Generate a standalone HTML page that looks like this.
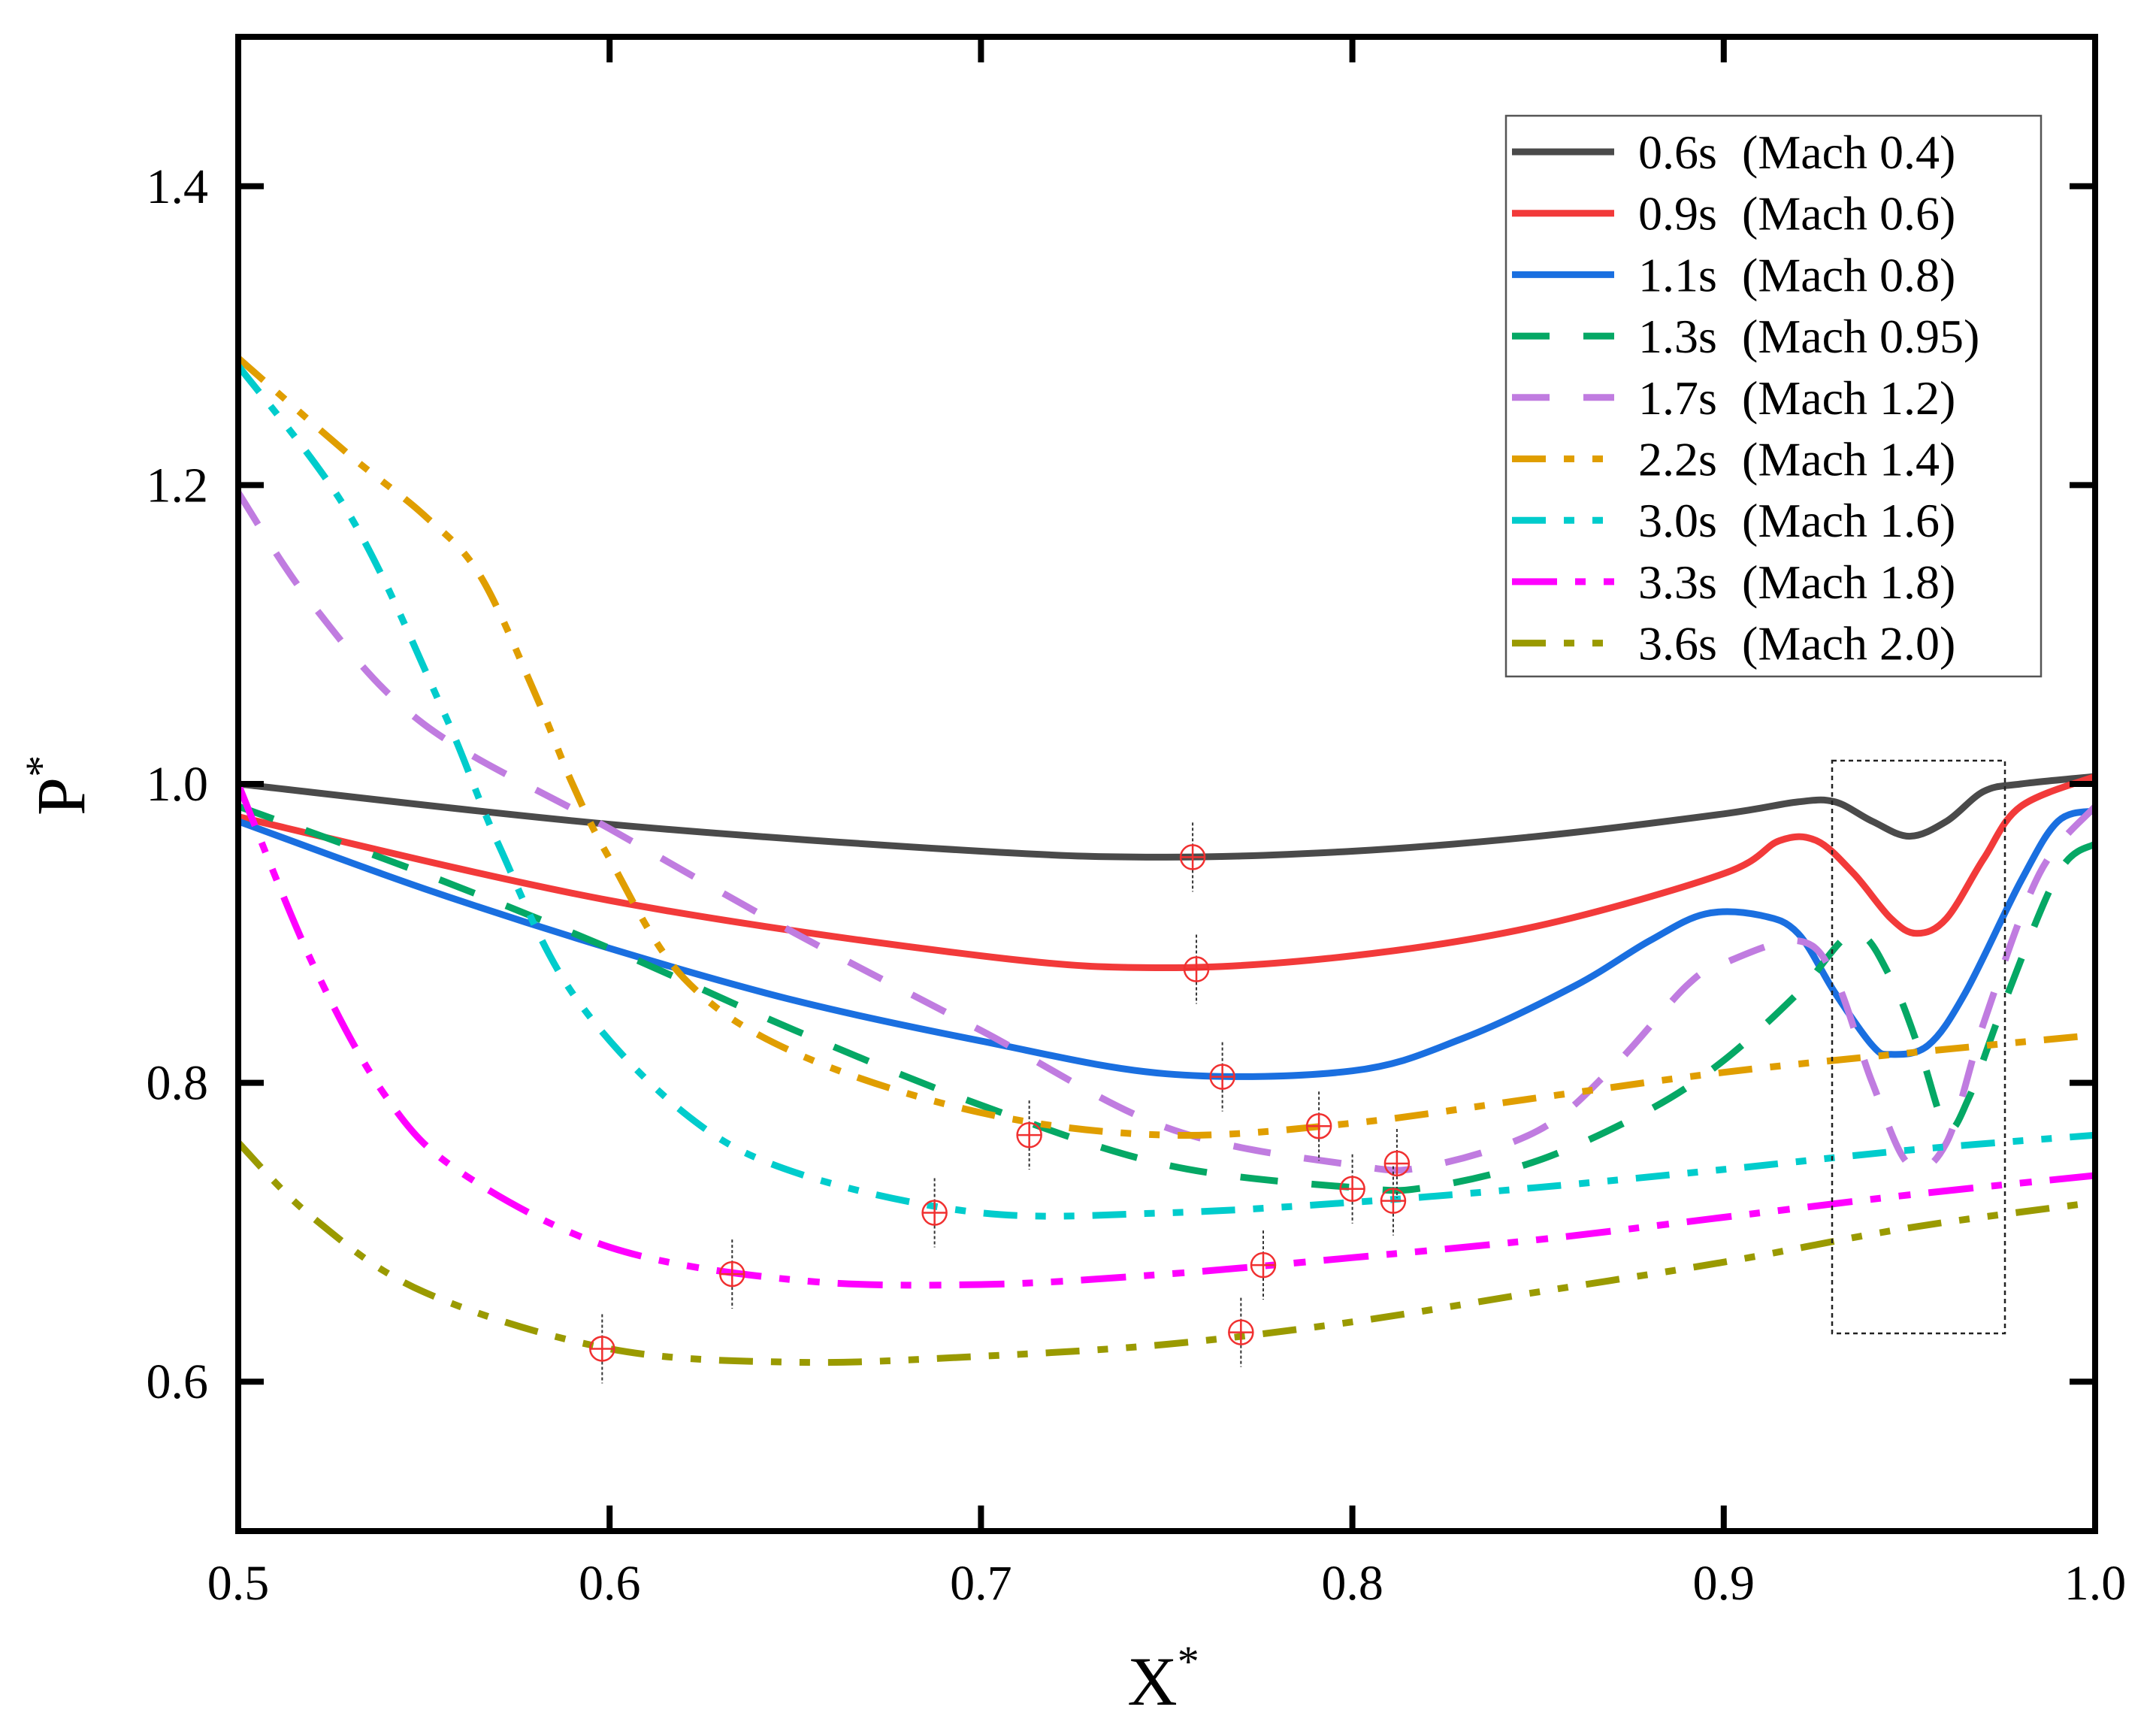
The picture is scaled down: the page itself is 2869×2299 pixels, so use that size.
<!DOCTYPE html>
<html><head><meta charset="utf-8"><style>
html,body{margin:0;padding:0;background:#fff;}
svg{display:block;}
text{font-family:"Liberation Serif",serif;fill:#000;}
</style></head><body>
<svg id="chart" width="2869" height="2299" viewBox="0 0 2869 2299" xmlns="http://www.w3.org/2000/svg">
<g id="plot"></g>
<g id="axes"></g>
<text x="0" y="0" font-size="92" text-anchor="middle" transform="translate(112,1045) rotate(-90)">P<tspan dy="-38" font-size="58">*</tspan></text>
<text x="1548" y="2268" font-size="92" text-anchor="middle">X<tspan dy="-38" font-size="58">*</tspan></text>
<g id="legend"></g>
</svg>
<script>
const xTicks=[0.5,0.6,0.7,0.8,0.9,1.0];
const xTickLabels=["0.5","0.6","0.7","0.8","0.9","1.0"];
const yTicks=[0.6,0.8,1.0,1.2,1.4];
const yTickLabels=["0.6","0.8","1.0","1.2","1.4"];
const seriesNames=["0.6s  (Mach 0.4)","0.9s  (Mach 0.6)","1.1s  (Mach 0.8)","1.3s  (Mach 0.95)","1.7s  (Mach 1.2)","2.2s  (Mach 1.4)","3.0s  (Mach 1.6)","3.3s  (Mach 1.8)","3.6s  (Mach 2.0)"];
const s06x=[0.5,0.6,0.7,0.75,0.8,0.85,0.9,0.92,0.93,0.94,0.95,0.96,0.97,0.98,1.0];
const s06y=[1.0,0.973,0.955,0.951,0.955,0.965,0.98,0.988,0.988,0.975,0.965,0.975,0.995,1.0,1.005];
const s09x=[0.5,0.6,0.7,0.75,0.8,0.85,0.9,0.915,0.925,0.935,0.945,0.952,0.96,0.97,0.98,1.0];
const s09y=[0.978,0.922,0.885,0.877,0.885,0.905,0.94,0.962,0.962,0.94,0.91,0.9,0.91,0.95,0.985,1.005];
const s11x=[0.5,0.55,0.6,0.65,0.7,0.75,0.8,0.83,0.86,0.88,0.895,0.91,0.92,0.93,0.94,0.945,0.955,0.965,0.98,0.99,1.0];
const s11y=[0.975,0.93,0.89,0.855,0.828,0.806,0.808,0.83,0.865,0.895,0.913,0.912,0.9,0.86,0.825,0.819,0.825,0.86,0.935,0.975,0.982];
const s13x=[0.5,0.55,0.6,0.65,0.7,0.75,0.8,0.82,0.85,0.88,0.9,0.92,0.935,0.945,0.953,0.96,0.966,0.975,0.99,1.0];
const s13y=[0.985,0.94,0.89,0.835,0.785,0.745,0.73,0.73,0.748,0.782,0.815,0.86,0.9,0.87,0.82,0.77,0.79,0.85,0.94,0.96];
const s17x=[0.5,0.52,0.55,0.6,0.65,0.7,0.75,0.8,0.82,0.85,0.87,0.89,0.9,0.92,0.93,0.94,0.95,0.96,0.97,0.985,1.0];
const s17y=[1.195,1.12,1.04,0.97,0.9,0.835,0.77,0.745,0.744,0.768,0.81,0.865,0.88,0.895,0.87,0.8,0.745,0.76,0.84,0.94,0.985];
const s22x=[0.5,0.53,0.55,0.565,0.58,0.59,0.6,0.62,0.65,0.7,0.75,0.8,0.85,0.9,0.95,1.0];
const s22y=[1.285,1.22,1.18,1.14,1.06,1.0,0.95,0.87,0.82,0.78,0.765,0.773,0.79,0.807,0.82,0.832];
const s30x=[0.5,0.53,0.555,0.57,0.59,0.62,0.65,0.7,0.75,0.8,0.85,0.9,0.95,1.0];
const s30y=[1.28,1.18,1.05,0.96,0.86,0.78,0.74,0.713,0.713,0.72,0.73,0.742,0.755,0.765];
const s33x=[0.5,0.52,0.54,0.56,0.6,0.65,0.7,0.75,0.8,0.85,0.9,0.95,1.0];
const s33y=[1.0,0.88,0.79,0.74,0.69,0.668,0.665,0.672,0.683,0.695,0.71,0.725,0.738];
const s36x=[0.5,0.52,0.55,0.6,0.65,0.7,0.75,0.8,0.85,0.9,0.95,1.0];
const s36y=[0.76,0.71,0.66,0.622,0.613,0.617,0.625,0.64,0.66,0.68,0.703,0.72];
const markerX=[0.757,0.758,0.765,0.713,0.791,0.8,0.812,0.811,0.6875,0.776,0.633,0.77,0.598];
const markerY=[0.951,0.876,0.804,0.765,0.771,0.729,0.746,0.721,0.713,0.678,0.672,0.633,0.622];

const NS="http://www.w3.org/2000/svg";
const L=317,R=2788,T=49,B=2037;
const X0=0.5,X1=1.0,Y0=0.5,Y1=1.5;
function sx(v){return L+(v-X0)/(X1-X0)*(R-L);}
function sy(v){return B-(v-Y0)/(Y1-Y0)*(B-T);}
function mk(tag,attrs,parent){const e=document.createElementNS(NS,tag);for(const k in attrs)e.setAttribute(k,attrs[k]);parent.appendChild(e);return e;}
function smooth(xs,ys){
  const p=xs.map((x,i)=>[sx(x),sy(ys[i])]);
  let d="M"+p[0][0].toFixed(1)+","+p[0][1].toFixed(1);
  for(let i=0;i<p.length-1;i++){
    const p0=p[Math.max(0,i-1)],p1=p[i],p2=p[i+1],p3=p[Math.min(p.length-1,i+2)];
    const c1=[p1[0]+(p2[0]-p0[0])/6,p1[1]+(p2[1]-p0[1])/6];
    const c2=[p2[0]-(p3[0]-p1[0])/6,p2[1]-(p3[1]-p1[1])/6];
    d+="C"+c1[0].toFixed(1)+","+c1[1].toFixed(1)+" "+c2[0].toFixed(1)+","+c2[1].toFixed(1)+" "+p2[0].toFixed(1)+","+p2[1].toFixed(1);
  }
  return d;
}
const plot=document.getElementById('plot');
const axes=document.getElementById('axes');
const legend=document.getElementById('legend');
const cfg=[
 {x:s06x,y:s06y,c:"#4a4a4a",d:"none",n:"series-0-6s"},
 {x:s09x,y:s09y,c:"#f23a3a",d:"none",n:"series-0-9s"},
 {x:s11x,y:s11y,c:"#1a6fe0",d:"none",n:"series-1-1s"},
 {x:s13x,y:s13y,c:"#05a865",d:"50,45",n:"series-1-3s"},
 {x:s17x,y:s17y,c:"#c07ce0",d:"50,45",n:"series-1-7s"},
 {x:s22x,y:s22y,c:"#e09e00",d:"45,24,14,24,14,24",n:"series-2-2s"},
 {x:s30x,y:s30y,c:"#00cccc",d:"45,24,14,24,14,24",n:"series-3-0s"},
 {x:s33x,y:s33y,c:"#ff00ff",d:"60,24,14,24,16,24",n:"series-3-3s"},
 {x:s36x,y:s36y,c:"#9a9a00",d:"45,24,14,24,14,24",n:"series-3-6s"}
];
const defs=mk('defs',{},plot);
const cp=mk('clipPath',{id:'clip'},defs);
mk('rect',{x:L,y:T,width:R-L,height:B-T},cp);
const g=mk('g',{'clip-path':'url(#clip)'},plot);
cfg.forEach(s=>{
  const p=mk('path',{d:smooth(s.x,s.y),fill:"none",stroke:s.c,"stroke-width":9,"stroke-dasharray":s.d,"stroke-linejoin":"round"},g);
  
  
});
const box=mk('rect',{x:2438,y:1012,width:230,height:762,fill:"none",stroke:"#222","stroke-width":2.5,"stroke-dasharray":"6,5"},plot);


markerX.forEach((mx,i)=>{
  const cx=sx(mx),cy=sy(markerY[i]);
  const mg=mk('g',{},plot);
  
  
  mk('line',{x1:cx,y1:cy-46,x2:cx,y2:cy+46,stroke:"#333","stroke-width":2,"stroke-dasharray":"4,3"},mg);
  mk('circle',{cx:cx,cy:cy,r:16,fill:"none",stroke:"#f03030","stroke-width":2.5},mg);
  mk('line',{x1:cx-16,y1:cy,x2:cx+16,y2:cy,stroke:"#f03030","stroke-width":2.5},mg);
  mk('line',{x1:cx,y1:cy-16,x2:cx,y2:cy+16,stroke:"#f03030","stroke-width":2.5},mg);
});
const fr=mk('rect',{x:L,y:T,width:R-L,height:B-T,fill:"none",stroke:"#000","stroke-width":8},axes);


xTicks.forEach((v,i)=>{
  const x=sx(v);
  mk('line',{x1:x,y1:B,x2:x,y2:B-34,stroke:"#000","stroke-width":8},axes);
  mk('line',{x1:x,y1:T,x2:x,y2:T+34,stroke:"#000","stroke-width":8},axes);
  const t=mk('text',{x:x,y:2128,"font-size":66,"text-anchor":"middle"},axes);
  t.textContent=xTickLabels[i];
  
  
});
yTicks.forEach((v,i)=>{
  const y=sy(v);
  mk('line',{x1:L,y1:y,x2:L+34,y2:y,stroke:"#000","stroke-width":8},axes);
  mk('line',{x1:R,y1:y,x2:R-34,y2:y,stroke:"#000","stroke-width":8},axes);
  const t=mk('text',{x:L-40,y:y+22,"font-size":66,"text-anchor":"end"},axes);
  t.textContent=yTickLabels[i];
  
  
});
const lb=mk('rect',{x:2004,y:154,width:712,height:746,fill:"#fff",stroke:"#555","stroke-width":2.5},legend);


cfg.forEach((s,i)=>{
  const y=202+i*81.7;
  const eg=mk('g',{},legend);
  
  
  mk('line',{x1:2012,y1:y,x2:2148,y2:y,stroke:s.c,"stroke-width":9,"stroke-dasharray":s.d},eg);
  const parts=seriesNames[i].split("  ");
  const t=mk('text',{x:2180,y:y+22,"font-size":64},eg);
  t.textContent=parts[0];
  const t2=mk('text',{x:2318,y:y+22,"font-size":64},eg);
  t2.textContent=parts[1];
});
</script>
</body></html>
